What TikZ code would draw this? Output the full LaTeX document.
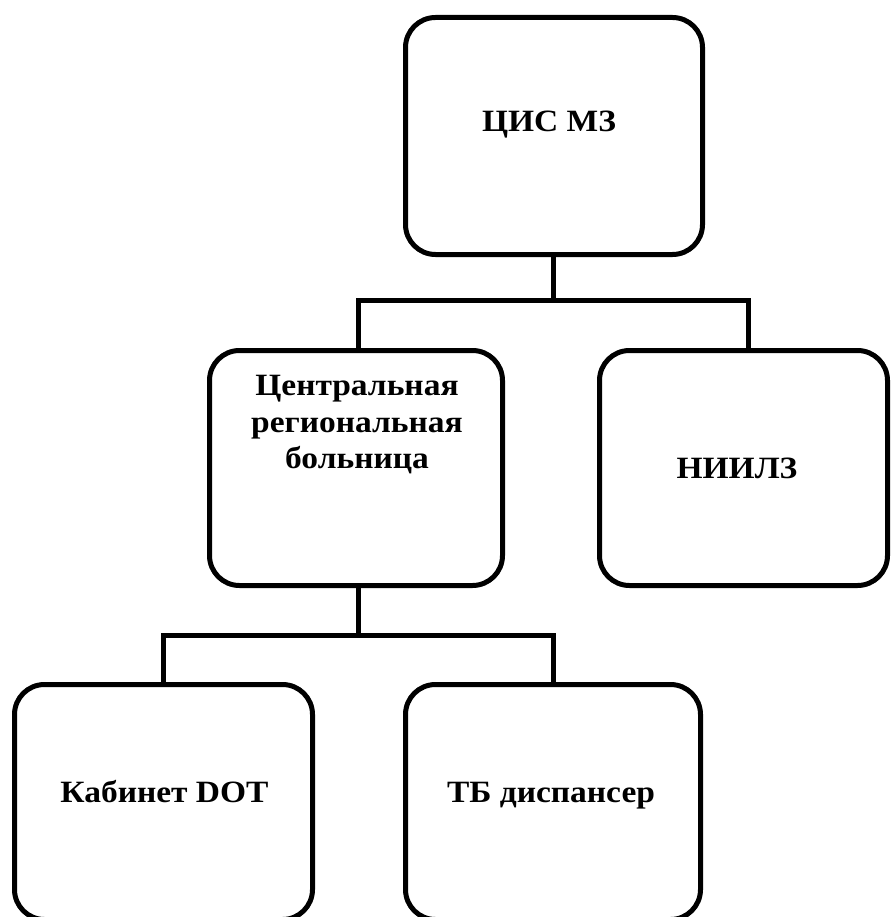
\documentclass[tikz,border=0pt]{standalone}
\usepackage{fontspec}
\setmainfont{Liberation Serif}[FakeStretch=1.08]
\begin{document}
\begin{tikzpicture}[x=1pt,y=-1pt,
  box/.style={draw=black,line width=5pt,rounded corners=30pt,fill=white,inner sep=0pt},
  lbl/.style={inner sep=0pt,font=\bfseries\fontsize{31}{36.5}\selectfont,align=center},
  conn/.style={draw=black,line width=5pt}]
\useasboundingbox (0,0) rectangle (892,917);
\fill[white] (0,0) rectangle (892,917);
% boxes
\node[box,minimum width=297pt,minimum height=237pt] (top) at (554,136) {};
\node[box,minimum width=293pt,minimum height=235pt] (mid) at (356,468) {};
\node[box,minimum width=288pt,minimum height=235pt] (right) at (743.5,468) {};
\node[box,minimum width=298pt,minimum height=235pt] (bl) at (163.5,802) {};
\node[box,minimum width=295pt,minimum height=235pt] (br) at (553,802) {};
% junctions
\coordinate (j1) at (553,300);
\coordinate (j2) at (358,635);
% connectors
\draw[conn] ([xshift=-1pt]top.south) -- (j1);
\draw[conn] ([xshift=2pt]mid.north) |- (j1) -| ([xshift=4.5pt]right.north);
\draw[conn] ([xshift=2pt]mid.south) -- (j2);
\draw[conn] (bl.north) |- (j2) -| (br.north);
% labels
\node[lbl,anchor=base] (ttop) at (549,132) {ЦИС МЗ};
\node[lbl,anchor=north] (tmid) at (357,375) {Центральная\\региональная\\больница};
\node[lbl,anchor=base] (tright) at (737,478) {НИИЛЗ};
\node[lbl,anchor=base] (tbl) at (164.5,802) {Кабинет DOT};
\node[lbl,anchor=base] (tbr) at (551,802) {ТБ диспансер};
\end{tikzpicture}
\end{document}
